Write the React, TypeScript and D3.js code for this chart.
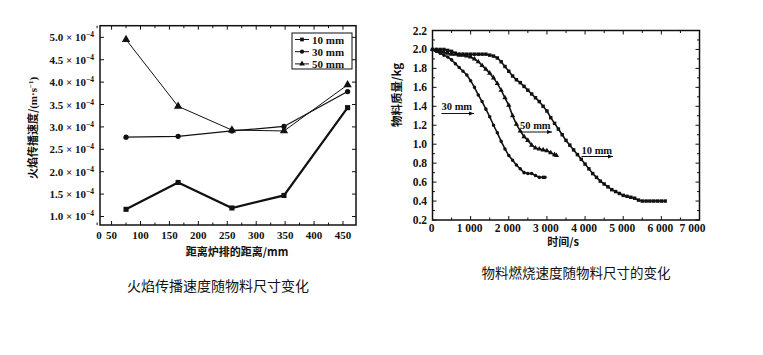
import React from 'react';
import * as d3 from 'd3';

// ---------- Left chart data (flame spread speed, ×10^-4 m/s) ----------
const distanceMm = [75, 165, 258, 348, 458];
const speed10 = [1.16, 1.76, 1.19, 1.47, 3.43];
const speed30 = [2.77, 2.79, 2.91, 3.01, 3.79];
const speed50 = [4.95, 3.46, 2.93, 2.91, 3.94];
const leftYTicks = [1.0, 1.5, 2.0, 2.5, 3.0, 3.5, 4.0, 4.5, 5.0];
const leftXTicks = [0, 50, 100, 150, 200, 250, 300, 350, 400, 450];
const leftSeriesNames = ['10 mm', '30 mm', '50 mm'];

// ---------- Right chart data (mass vs time) ----------
const time10 = [0, 100, 200, 300, 400, 500, 600, 700, 800, 900, 1000, 1100, 1200, 1300, 1400, 1500, 1600, 1700, 1800, 1900, 2000, 2100, 2200, 2300, 2400, 2500, 2600, 2700, 2800, 2900, 3000, 3100, 3200, 3300, 3400, 3500, 3600, 3700, 3800, 3900, 4000, 4100, 4200, 4300, 4400, 4500, 4600, 4700, 4800, 4900, 5000, 5100, 5200, 5300, 5400, 5500, 5600, 5700, 5800, 5900, 6000, 6100];
const mass10 = [2.0, 2.0, 2.0, 2.0, 1.99, 1.98, 1.96, 1.95, 1.95, 1.95, 1.95, 1.95, 1.95, 1.95, 1.95, 1.94, 1.93, 1.91, 1.87, 1.82, 1.77, 1.72, 1.68, 1.65, 1.61, 1.57, 1.53, 1.49, 1.45, 1.4, 1.35, 1.28, 1.22, 1.16, 1.1, 1.04, 0.99, 0.94, 0.89, 0.84, 0.79, 0.74, 0.69, 0.65, 0.61, 0.58, 0.55, 0.52, 0.5, 0.48, 0.46, 0.45, 0.44, 0.43, 0.41, 0.4, 0.4, 0.4, 0.4, 0.4, 0.4, 0.4];
const time30 = [0, 100, 200, 300, 400, 500, 600, 700, 800, 900, 1000, 1100, 1200, 1300, 1400, 1500, 1600, 1700, 1800, 1900, 2000, 2100, 2200, 2300, 2400, 2500, 2600, 2700, 2800, 2900, 2950];
const mass30 = [2.0, 1.98, 1.96, 1.94, 1.92, 1.89, 1.85, 1.81, 1.77, 1.73, 1.67, 1.6, 1.52, 1.45, 1.37, 1.29, 1.2, 1.12, 1.03, 0.95, 0.88, 0.83, 0.78, 0.74, 0.7, 0.69, 0.69, 0.67, 0.65, 0.65, 0.65];
const time50 = [0, 100, 200, 300, 400, 500, 600, 700, 800, 900, 1000, 1100, 1200, 1300, 1400, 1500, 1600, 1700, 1800, 1900, 2000, 2100, 2200, 2300, 2400, 2500, 2600, 2700, 2800, 2900, 3000, 3100, 3200, 3250];
const mass50 = [2.0, 1.99, 1.98, 1.97, 1.96, 1.95, 1.95, 1.94, 1.94, 1.93, 1.92, 1.9, 1.87, 1.83, 1.79, 1.75, 1.7, 1.64, 1.57, 1.49, 1.41, 1.3, 1.21, 1.14, 1.08, 1.04, 0.99, 0.96, 0.95, 0.94, 0.93, 0.91, 0.89, 0.88];
const rightYTicks = [0.2, 0.4, 0.6, 0.8, 1.0, 1.2, 1.4, 1.6, 1.8, 2.0, 2.2];
const rightXTicks = [0, 1000, 2000, 3000, 4000, 5000, 6000, 7000];
const rightXLabels = ['0', '1 000', '2 000', '3 000', '4 000', '5 000', '6 000', '7 000'];

const serif = '"Liberation Serif", "DejaVu Serif", serif';
const cjk = '"Noto Sans CJK SC", "Noto Sans CJK JP", sans-serif';

function Marker({ type, x, y, size }: { type: string; x: number; y: number; size: number }) {
  const sym = type === 'square' ? d3.symbolSquare : type === 'circle' ? d3.symbolCircle : d3.symbolTriangle;
  const d = d3.symbol().type(sym).size(size)() as string;
  return <path d={d} transform={`translate(${x},${y})`} fill="#111" />;
}

function LeftChart() {
  const x = d3.scaleLinear().domain([30, 472.5]).range([100, 356]);
  const y = d3.scaleLinear().domain([0.81, 5.26]).range([225, 25.7]);
  const line = d3.line<[number, number]>().x((d) => x(d[0])).y((d) => y(d[1]));
  const series = [
    { vals: speed10, type: 'square', w: 2.2, size: 26 },
    { vals: speed30, type: 'circle', w: 1.3, size: 22 },
    { vals: speed50, type: 'triangle', w: 1.0, size: 30 },
  ];
  const minorX = d3.range(25, 475, 25);
  return (
    <g>
      <rect x={100} y={25.7} width={256} height={199.3} fill="none" stroke="#111" strokeWidth={1.5} />
      {minorX.map((v) => {
        const len = v % 50 === 0 ? 4 : 2.5;
        return (
          <g key={v}>
            <line x1={x(v)} x2={x(v)} y1={225} y2={225 - len} stroke="#111" strokeWidth={1} />
            <line x1={x(v)} x2={x(v)} y1={25.7} y2={25.7 + len} stroke="#111" strokeWidth={1} />
          </g>
        );
      })}
      {leftYTicks.map((v) => (
        <g key={v}>
          <line x1={100} x2={104} y1={y(v)} y2={y(v)} stroke="#111" strokeWidth={1} />
          <line x1={356} x2={352} y1={y(v)} y2={y(v)} stroke="#111" strokeWidth={1} />
          <text x={94} y={y(v) + 4} textAnchor="end" fontFamily={serif} fontWeight="bold" fontSize={11} fill="#111">
            {v.toFixed(1)} × 10<tspan dy={-4} fontSize={7.5}>−4</tspan>
          </text>
        </g>
      ))}
      {leftXTicks.map((v) => (
        <text key={v} x={v === 0 ? 99 : x(v)} y={239} textAnchor="middle" fontFamily={serif} fontWeight="bold" fontSize={11} fill="#111">
          {v}
        </text>
      ))}
      {series.map((s, i) => {
        const pts: [number, number][] = distanceMm.map((d, j) => [d, s.vals[j]]);
        return (
          <g key={i}>
            <path d={line(pts) as string} fill="none" stroke="#111" strokeWidth={s.w} />
            {pts.map((p, j) => (
              <Marker key={j} type={s.type} x={x(p[0])} y={y(p[1])} size={s.size} />
            ))}
          </g>
        );
      })}
      {/* legend */}
      <rect x={292} y={33} width={60} height={36} fill="#fff" stroke="#111" strokeWidth={1} />
      {leftSeriesNames.map((n, i) => {
        const ly = 39.5 + i * 12.2;
        const t = series[i].type;
        return (
          <g key={n}>
            <line x1={295} x2={309} y1={ly} y2={ly} stroke="#111" strokeWidth={1} />
            <Marker type={t} x={302} y={ly} size={14} />
            <text x={312} y={ly + 4} fontFamily={serif} fontWeight="bold" fontSize={11} fill="#111">
              {n}
            </text>
          </g>
        );
      })}
      <text transform="translate(37,128) rotate(-90)" textAnchor="middle" fontFamily={cjk} fontWeight="bold" fontSize={11} fill="#111">
        火焰传播速度/<tspan fontFamily={serif}>(m·s</tspan><tspan dy={-4} fontSize={7} fontFamily={serif}>−1</tspan><tspan dy={4} fontFamily={serif}>)</tspan>
      </text>
      <text x={237} y={256} textAnchor="middle" fontFamily={cjk} fontWeight="bold" fontSize={11} fill="#111">
        距离炉排的距离/mm
      </text>
      <text x={218} y={291} textAnchor="middle" fontFamily={cjk} fontSize={14} fill="#111">
        火焰传播速度随物料尺寸变化
      </text>
    </g>
  );
}

function RightChart() {
  const x = d3.scaleLinear().domain([0, 7000]).range([432.5, 699.5]);
  const y = d3.scaleLinear().domain([0.2, 2.2]).range([220, 30.5]);
  const line = d3.line<[number, number]>().x((d) => x(d[0])).y((d) => y(d[1]));
  const series = [
    { t: time10, m: mass10, type: 'square', size: 12 },
    { t: time30, m: mass30, type: 'circle', size: 10 },
    { t: time50, m: mass50, type: 'triangle', size: 12 },
  ];
  const minorX = d3.range(500, 7000, 500);
  const minorY = d3.range(0.3, 2.2, 0.2);
  const annotations = [
    { label: '30 mm', x1: 441.5, x2: 474, ty: 110, ly: 113.5 },
    { label: '50 mm', x1: 520, x2: 552, ty: 129, ly: 132 },
    { label: '10 mm', x1: 581.5, x2: 613, ty: 153.5, ly: 156.5 },
  ];
  return (
    <g>
      <rect x={432.5} y={30.5} width={267} height={189.5} fill="none" stroke="#111" strokeWidth={1.5} />
      {minorX.map((v) => {
        const len = v % 1000 === 0 ? 4 : 2.5;
        return (
          <g key={v}>
            <line x1={x(v)} x2={x(v)} y1={220} y2={220 - len} stroke="#111" strokeWidth={1} />
            <line x1={x(v)} x2={x(v)} y1={30.5} y2={30.5 + len} stroke="#111" strokeWidth={1} />
          </g>
        );
      })}
      {rightYTicks.map((v) => (
        <g key={v}>
          <line x1={432.5} x2={436.5} y1={y(v)} y2={y(v)} stroke="#111" strokeWidth={1} />
          <line x1={699.5} x2={695.5} y1={y(v)} y2={y(v)} stroke="#111" strokeWidth={1} />
          <text x={427} y={y(v) + 4} textAnchor="end" fontFamily={serif} fontWeight="bold" fontSize={11.5} fill="#111">
            {v.toFixed(1)}
          </text>
        </g>
      ))}
      {minorY.map((v) => (
        <g key={v}>
          <line x1={432.5} x2={435} y1={y(v)} y2={y(v)} stroke="#111" strokeWidth={1} />
          <line x1={699.5} x2={697} y1={y(v)} y2={y(v)} stroke="#111" strokeWidth={1} />
        </g>
      ))}
      {rightXTicks.map((v, i) => (
        <text key={v} x={x(v) - (i === 7 ? 7 : 1)} y={232} textAnchor="middle" fontFamily={serif} fontWeight="bold" fontSize={11.5} fill="#111">
          {rightXLabels[i]}
        </text>
      ))}
      {series.map((s, i) => {
        const pts: [number, number][] = s.t.map((t, j) => [t, s.m[j]]);
        return (
          <g key={i}>
            <path d={line(pts) as string} fill="none" stroke="#111" strokeWidth={1.6} />
            {pts.map((p, j) => (
              <Marker key={j} type={s.type} x={x(p[0])} y={y(p[1])} size={s.size} />
            ))}
          </g>
        );
      })}
      {annotations.map((a) => (
        <g key={a.label}>
          <text x={a.x1} y={a.ty} fontFamily={serif} fontWeight="bold" fontSize={10.5} fill="#111">
            {a.label}
          </text>
          <line x1={a.x1} x2={a.x2} y1={a.ly} y2={a.ly} stroke="#111" strokeWidth={1} />
          <path d={`M${a.x2},${a.ly} l-5,-2 l0,4 z`} fill="#111" />
        </g>
      ))}
      <text transform="translate(401,95) rotate(-90)" textAnchor="middle" fontFamily={cjk} fontWeight="bold" fontSize={11.5} fill="#111">
        物料质量/kg
      </text>
      <text x={563} y={246} textAnchor="middle" fontFamily={cjk} fontWeight="bold" fontSize={11} fill="#111">
        时间/s
      </text>
      <text x={576} y={278} textAnchor="middle" fontFamily={cjk} fontSize={13.5} fill="#111">
        物料燃烧速度随物料尺寸的变化
      </text>
    </g>
  );
}

export default function App() {
  return (
    <svg width={763} height={355} style={{ position: 'fixed', left: 0, top: 0, background: '#fff' }}>
      <rect width={763} height={355} fill="#fff" />
      <LeftChart />
      <RightChart />
    </svg>
  );
}
